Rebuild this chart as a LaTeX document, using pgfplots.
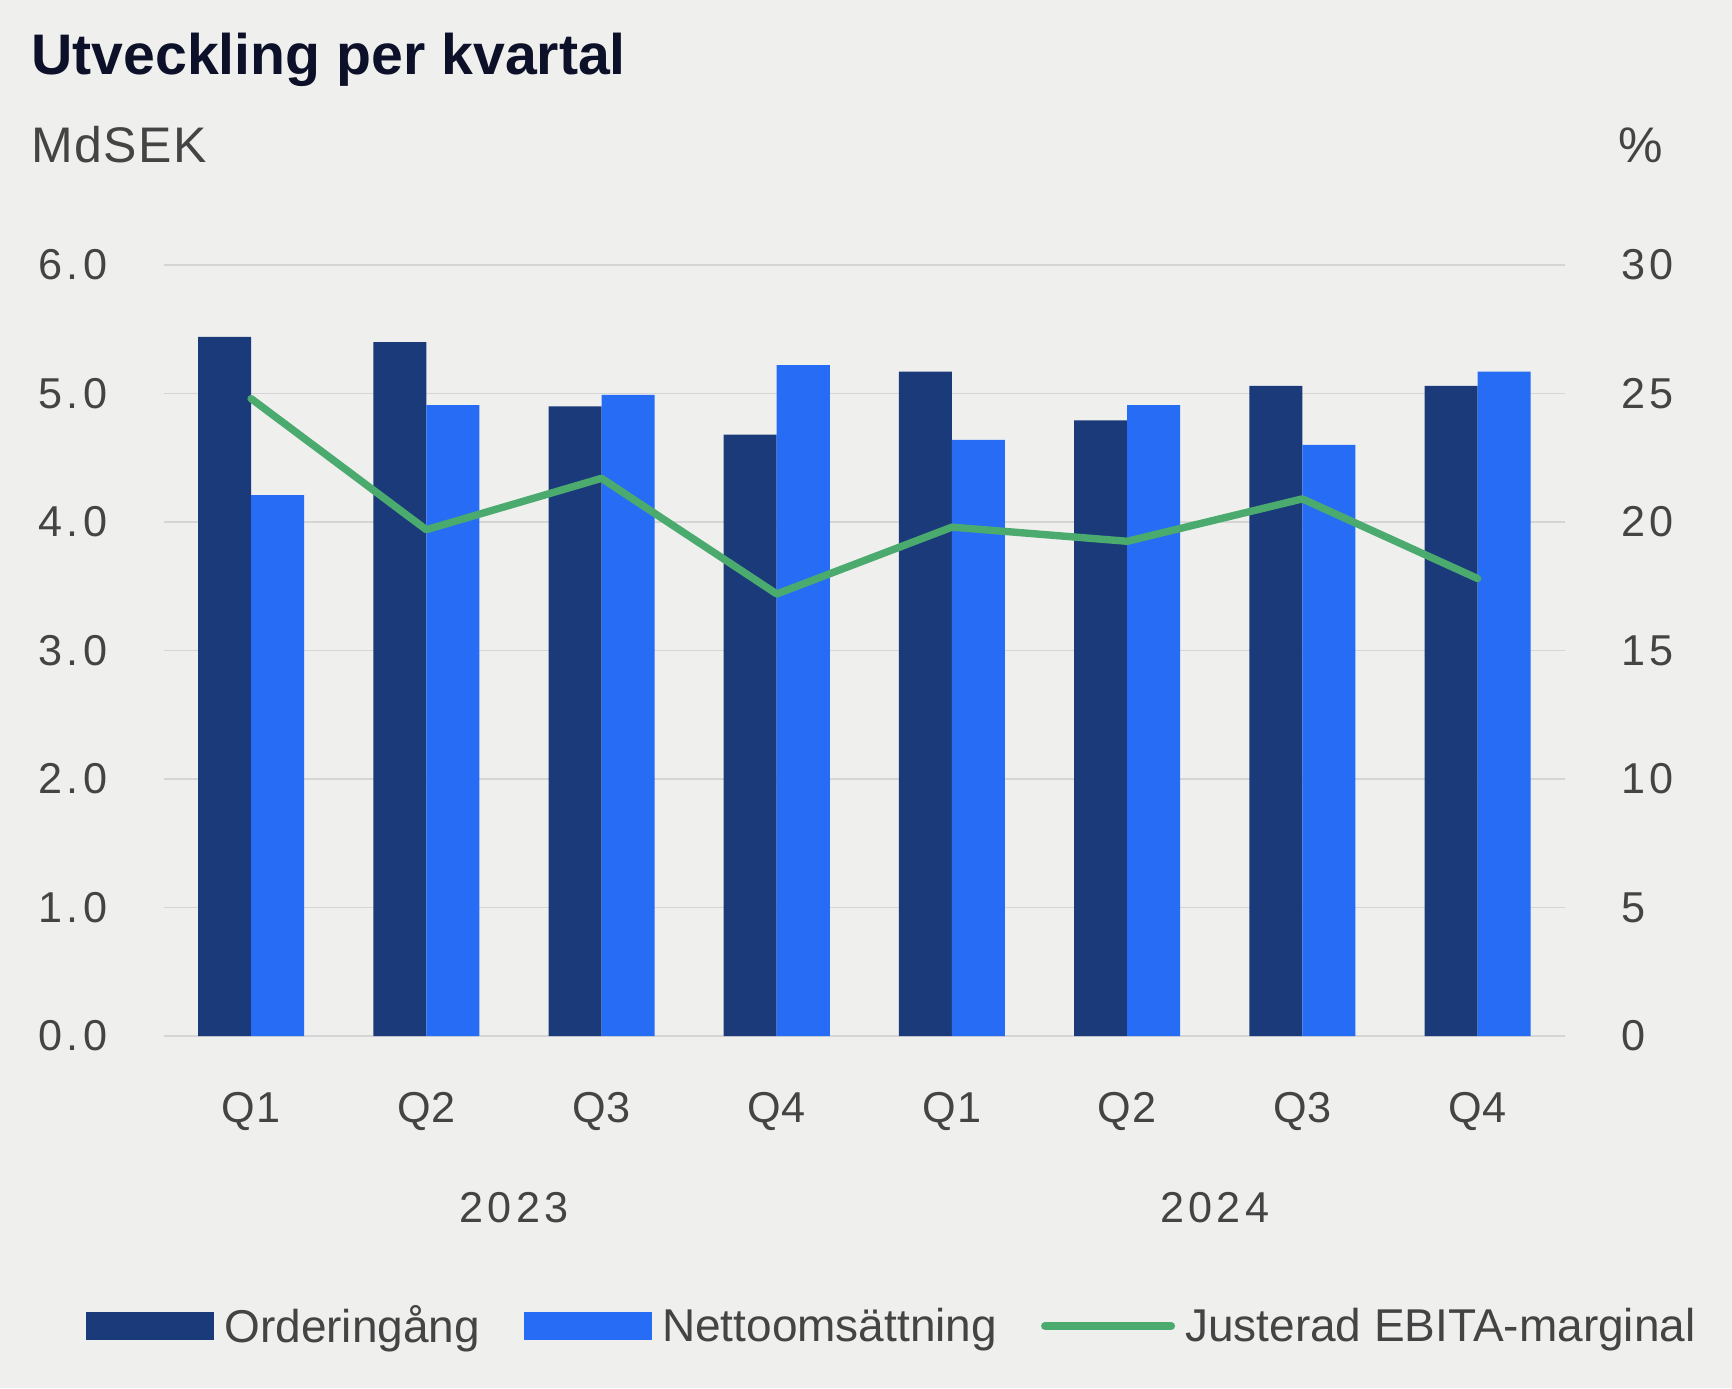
\documentclass[border=0pt]{standalone}
\usepackage{fontspec}
\setmainfont{Liberation Sans}
\newfontfamily\wide[LetterSpace=10]{Liberation Sans}
\newfontfamily\wideQ[LetterSpace=2]{Liberation Sans}
\newfontfamily\wideS[LetterSpace=3]{Liberation Sans}
\usepackage{pgfplots}
\usepackage{pgfplotstable}
\pgfplotsset{compat=1.18}

\definecolor{bg}{HTML}{EFEFED}
\definecolor{navy}{HTML}{1B3A7A}
\definecolor{brightblue}{HTML}{276CF5}
\definecolor{greenc}{HTML}{4BAA6E}
\definecolor{gridc}{HTML}{D5D5D5}
\definecolor{textc}{HTML}{444444}
\definecolor{titlec}{HTML}{0C1129}

% kvartal: orderingång, nettoomsättning (MdSEK), justerad EBITA-marginal (%)
\pgfplotstableread{
x ord net ebita
0 5.44 4.21 24.8
1 5.40 4.91 19.7
2 4.90 4.99 21.7
3 4.68 5.22 17.2
4 5.17 4.64 19.8
5 4.79 4.91 19.25
6 5.06 4.60 20.9
7 5.06 5.17 17.8
}\data

\pgfplotsset{
  base/.style={
    at={(81.75pt,176pt)}, anchor=south west,
    scale only axis, width=700.85pt, height=385.5pt,
    xmin=-0.5, xmax=7.5,
    axis line style={draw=none},
    major tick style={draw=none},
    minor tick style={draw=none},
    clip=false,
    /pgf/number format/assume math mode=true,
    every tick label/.append style={font=\wide\fontsize{21.6}{26}\selectfont, text=textc},
  },
}

\begin{document}
\begin{tikzpicture}
\fill[bg] (0,0) rectangle (866pt,694pt);

\begin{axis}[base,
  ymin=0, ymax=6, ytick={0,1,...,6},
  ymajorgrids, grid style={gridc, line width=0.75pt},
  yticklabel={\pgfmathprintnumber[fixed,fixed zerofill,precision=1]{\tick}},
  yticklabel style={anchor=east, inner sep=0pt, xshift=-28pt},
  xtick={0,...,7},
  xticklabels={Q1,Q2,Q3,Q4,Q1,Q2,Q3,Q4},
  xticklabel style={anchor=base, inner sep=0pt, yshift=-38.8pt,
    font=\wideQ\fontsize{21.6}{26}\selectfont},
  ybar, bar width=26.5pt,
  legend columns=3,
  legend style={at={(axis description cs:-0.0553,-0.376)}, anchor=west,
    draw=none, fill=none, inner sep=0pt,
    font=\fontsize{23}{27}\selectfont, text=textc,
    nodes={inner sep=0pt},
    /tikz/every odd column/.append style={column sep=5pt},
    /tikz/every even column/.append style={column sep=22pt}},
  legend cell align=left,
]
\addplot[fill=navy, draw=none, bar shift=-13.25pt,
  legend image code/.code={\fill[navy] (0pt,-7pt) rectangle (64pt,7pt);}]
  table[x=x, y=ord]{\data};
\addlegendentry{Orderingång}
\addplot[fill=brightblue, draw=none, bar shift=13.25pt,
  legend image code/.code={\fill[brightblue] (0pt,-7pt) rectangle (64pt,7pt);}]
  table[x=x, y=net]{\data};
\addlegendentry{Nettoomsättning}
\addlegendimage{legend image code/.code={\draw[greenc, line width=4pt, line cap=round] (2pt,0pt) -- (65pt,0pt);}}
\addlegendentry{Justerad EBITA-marginal}

\node[anchor=base, inner sep=0pt, font=\wide\fontsize{21.6}{26}\selectfont, text=textc, yshift=-93pt] at (axis cs:1.5,0) {2023};
\node[anchor=base, inner sep=0pt, font=\wide\fontsize{21.6}{26}\selectfont, text=textc, yshift=-93pt] at (axis cs:5.5,0) {2024};
\end{axis}

\begin{axis}[base,
  ymin=0, ymax=30, ytick={0,5,...,30},
  xtick=\empty,
  yticklabel pos=right,
  yticklabel style={anchor=west, inner sep=0pt, xshift=28pt},
]
\addplot[greenc, line width=3.7pt, line cap=round, line join=round] table[x=x, y=ebita]{\data};
\end{axis}

\node[anchor=base west, inner sep=0pt, font=\bfseries\fontsize{28.6}{34}\selectfont, text=titlec] at (15.5pt,656.5pt) {Utveckling per kvartal};
\node[anchor=base west, inner sep=0pt, font=\wideS\fontsize{25}{30}\selectfont, text=textc] at (15.5pt,612.5pt) {MdSEK};
\node[anchor=base west, inner sep=0pt, font=\fontsize{25}{30}\selectfont, text=textc] at (809pt,612.5pt) {\%};
\end{tikzpicture}
\end{document}
